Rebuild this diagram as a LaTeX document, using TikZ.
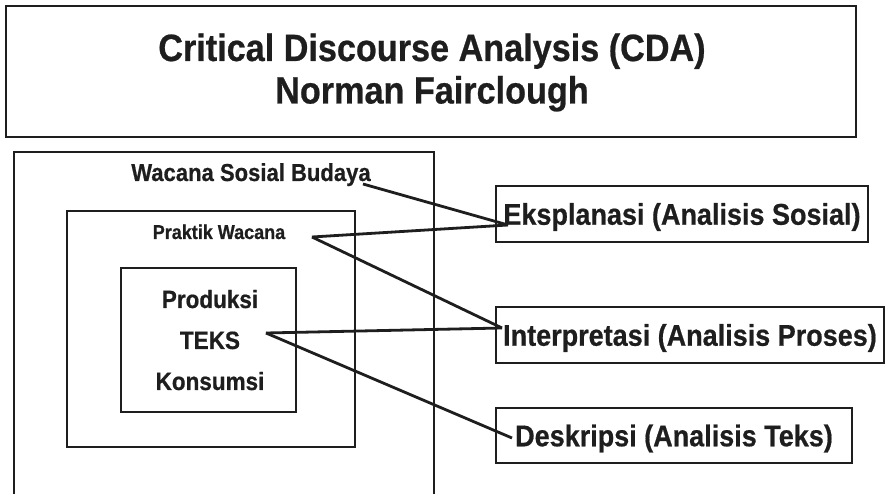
\documentclass[tikz,border=0pt]{standalone}
\usepackage{fontspec}
\newfontfamily\cdafont{Liberation Sans}[FakeStretch=0.9, BoldFeatures={FakeBold=0.6}]
\definecolor{ink}{HTML}{1E1E1E}
\begin{document}
\begin{tikzpicture}[x=1pt,y=-1pt,
  frame/.style={draw=ink, line width=2.8pt},
  lbl/.style={text=ink, inner sep=0pt, font=\cdafont\bfseries\fontsize{#1}{#1}\selectfont},
  lbl/.default=25,
  rbox/.style={frame, text=ink, inner sep=0pt, text height=21.5pt, text depth=0pt,
    font=\cdafont\bfseries\fontsize{30}{30}\selectfont},
  link/.style={draw=ink, line width=2.8pt}]
\useasboundingbox (0,0) rectangle (887,494);
\fill[white] (0,0) rectangle (887,494);

% title
\node[frame, minimum width=850pt, minimum height=131pt, inner sep=0pt] (title) at (431,71.5) {};
\node[lbl=38, anchor=base] (t1) at (432,61) {Critical Discourse Analysis (CDA)};
\node[lbl=38, anchor=base] (t2) at (432,103.5) {Norman Fairclough};

% nested boxes
\draw[frame] (14,152) rectangle (434,520);
\draw[frame] (67,211) rectangle (355,447);
\draw[frame] (121,268) rectangle (296,412);

\node[lbl=24.5, anchor=base] (wsb) at (251,181) {Wacana Sosial Budaya};
\node[lbl=20, anchor=base] (pw) at (219,239) {Praktik Wacana};
\node[lbl=25, anchor=base] (prod) at (210,308) {Produksi};
\node[lbl=25, anchor=base] (teks) at (210,349) {TEKS};
\node[lbl=25, anchor=base] (kons) at (210,390) {Konsumsi};

% right boxes
\node[rbox, minimum width=372pt, minimum height=56pt] (ek) at (682,214) {Eksplanasi (Analisis Sosial)};
\node[rbox, minimum width=388pt, minimum height=56pt] (ip) at (690,335) {Interpretasi (Analisis Proses)};
\node[rbox, minimum width=356pt, minimum height=55pt] (de) at (674,435.5) {Deskripsi (Analisis Teks)};

% connector ends
\coordinate (wsbEnd) at (363,184);
\coordinate (pwEnd) at (312,237);
\coordinate (teksEnd) at (266,333);
\coordinate (ekIn) at (508,225);
\coordinate (ipIn) at (502,328);
\coordinate (deIn) at (512,438);

\draw[link] (wsbEnd) -- (ekIn);
\draw[link] (pwEnd) -- (ekIn);
\draw[link] (pwEnd) -- (ipIn);
\draw[link] (teksEnd) -- (ipIn);
\draw[link] (teksEnd) -- (deIn);
\end{tikzpicture}
\end{document}
